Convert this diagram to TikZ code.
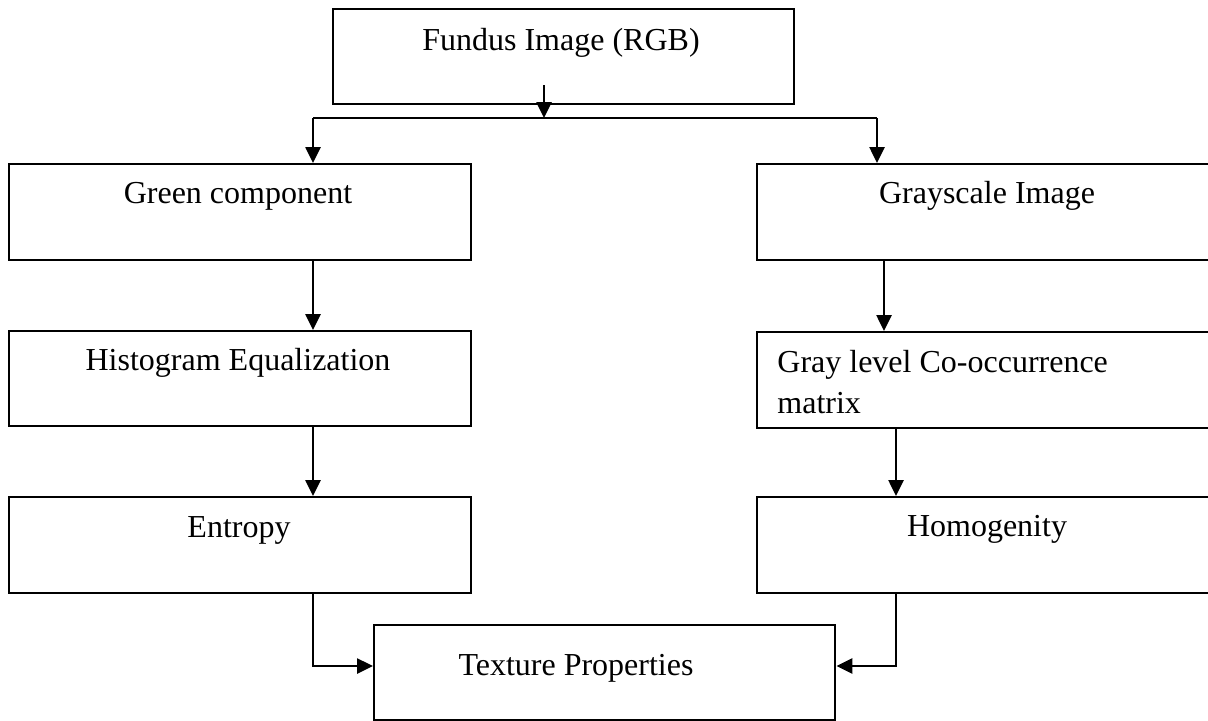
\documentclass[tikz,border=0pt]{standalone}
\usepackage{fontspec}
\setmainfont{Liberation Serif}
\usetikzlibrary{arrows.meta}
\begin{document}
\begin{tikzpicture}[x=0.5pt,y=-0.5pt,
  box/.style={draw, line width=1.2pt, inner sep=0pt, anchor=north west},
  lbl/.style={anchor=base, inner sep=0pt, font=\fontsize{16}{20.5}\selectfont},
  conn/.style={line width=1.3pt},
  arr/.style={line width=1.3pt, -{Triangle[width=7.5pt,length=8pt]}}]
\useasboundingbox (0,0) rectangle (1208,720);
% boxes
\node[box, minimum width=230.5pt, minimum height=47.5pt] (top) at (332,8) {};
\node[box, minimum width=231pt, minimum height=48pt] (green) at (8,163) {};
\node[box, minimum width=231pt, minimum height=47.5pt] (hist) at (8,330) {};
\node[box, minimum width=231pt, minimum height=48pt] (entropy) at (8,496) {};
\node[box, minimum width=228pt, minimum height=48pt] (gray) at (756,163) {};
\node[box, minimum width=228pt, minimum height=48pt] (glcm) at (756,331) {};
\node[box, minimum width=228pt, minimum height=48pt] (homog) at (756,496) {};
\node[box, minimum width=230.5pt, minimum height=47.5pt] (texture) at (373,624) {};
% labels
\node[lbl] (tTop) at (561,50) {Fundus Image (RGB)};
\node[lbl] (tGreen) at (238,203) {Green component};
\node[lbl] (tHist) at (238,370) {Histogram Equalization};
\node[lbl] (tEnt) at (239,537) {Entropy};
\node[lbl] (tGray) at (987,203) {Grayscale Image};
\node[lbl, anchor=base west] (tGl1) at (777,372) {Gray level Co-occurrence};
\node[lbl, anchor=base west] (tGl2) at (777,413) {matrix};
\node[lbl] (tHom) at (987,536) {Homogenity};
\node[lbl] (tTex) at (576,675) {Texture Properties};
% connector coordinates
\coordinate (s) at (544,85);
\coordinate (b1) at (313,118);
\coordinate (b2) at (877,118);
\coordinate (c1) at (884,0);
\coordinate (c2) at (896,0);
\coordinate (d) at (0,666);
% connectors
\draw[arr] (s) -- (s |- b1);
\draw[conn] (b1) -- (b2);
\draw[arr] (b1) -- (b1 |- green.north);
\draw[arr] (b2) -- (b2 |- gray.north);
\draw[arr] (green.south -| b1) -- (hist.north -| b1);
\draw[arr] (hist.south -| b1) -- (entropy.north -| b1);
\draw[arr] (gray.south -| c1) -- (glcm.north -| c1);
\draw[arr] (glcm.south -| c2) -- (homog.north -| c2);
\draw[arr] (entropy.south -| b1) |- (texture.west |- d);
\draw[arr] (homog.south -| c2) |- (texture.east |- d);
\end{tikzpicture}
\end{document}
